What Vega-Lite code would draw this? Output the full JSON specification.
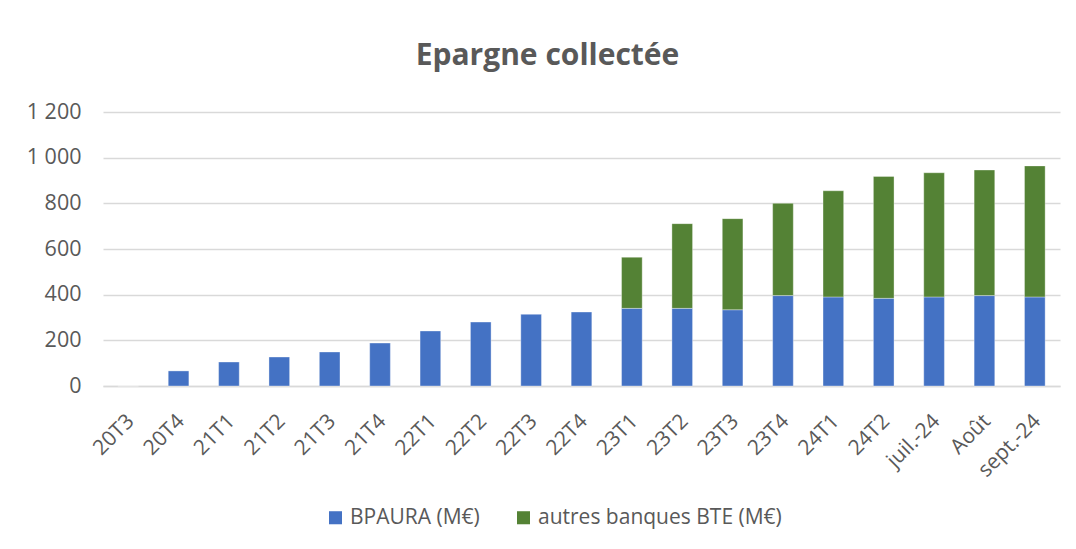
{
  "$schema": "https://vega.github.io/schema/vega-lite/v6.json",
  "width": 957,
  "height": 274,
  "autosize": {"type": "none"},
  "padding": {"left": 103, "top": 112, "right": 16, "bottom": 163},
  "background": "#ffffff",
  "title": {
    "text": "Epargne collectée",
    "font": "Open Sans",
    "fontSize": 30,
    "fontWeight": "bold",
    "color": "#595959",
    "anchor": "middle",
    "frame": "group",
    "baseline": "alphabetic",
    "dx": -34,
    "offset": 6
  },
  "data": {
    "values": [
      {"periode": "20T3", "serie": "BPAURA (M€)", "montant": 0},
      {"periode": "20T4", "serie": "BPAURA (M€)", "montant": 66},
      {"periode": "21T1", "serie": "BPAURA (M€)", "montant": 105},
      {"periode": "21T2", "serie": "BPAURA (M€)", "montant": 127},
      {"periode": "21T3", "serie": "BPAURA (M€)", "montant": 149},
      {"periode": "21T4", "serie": "BPAURA (M€)", "montant": 188},
      {"periode": "22T1", "serie": "BPAURA (M€)", "montant": 241},
      {"periode": "22T2", "serie": "BPAURA (M€)", "montant": 280},
      {"periode": "22T3", "serie": "BPAURA (M€)", "montant": 314},
      {"periode": "22T4", "serie": "BPAURA (M€)", "montant": 324},
      {"periode": "23T1", "serie": "BPAURA (M€)", "montant": 340},
      {"periode": "23T2", "serie": "BPAURA (M€)", "montant": 340},
      {"periode": "23T3", "serie": "BPAURA (M€)", "montant": 334},
      {"periode": "23T4", "serie": "BPAURA (M€)", "montant": 396},
      {"periode": "24T1", "serie": "BPAURA (M€)", "montant": 390},
      {"periode": "24T2", "serie": "BPAURA (M€)", "montant": 384},
      {"periode": "juil.-24", "serie": "BPAURA (M€)", "montant": 390},
      {"periode": "Août", "serie": "BPAURA (M€)", "montant": 396},
      {"periode": "sept.-24", "serie": "BPAURA (M€)", "montant": 390},
      {"periode": "23T1", "serie": "autres banques BTE (M€)", "montant": 224},
      {"periode": "23T2", "serie": "autres banques BTE (M€)", "montant": 371},
      {"periode": "23T3", "serie": "autres banques BTE (M€)", "montant": 399},
      {"periode": "23T4", "serie": "autres banques BTE (M€)", "montant": 404},
      {"periode": "24T1", "serie": "autres banques BTE (M€)", "montant": 465},
      {"periode": "24T2", "serie": "autres banques BTE (M€)", "montant": 534},
      {"periode": "juil.-24", "serie": "autres banques BTE (M€)", "montant": 544},
      {"periode": "Août", "serie": "autres banques BTE (M€)", "montant": 550},
      {"periode": "sept.-24", "serie": "autres banques BTE (M€)", "montant": 574}
    ]
  },
  "mark": {"type": "bar", "stroke": "#ffffff", "strokeOpacity": 0.35, "strokeWidth": 1},
  "encoding": {
    "x": {
      "field": "periode",
      "type": "nominal",
      "sort": null,
      "scale": {"paddingInner": 0.59, "paddingOuter": 0.295},
      "axis": {
        "title": null,
        "labelAngle": -45,
        "labelFont": "Open Sans",
        "labelFontSize": 21,
        "labelColor": "#595959",
        "ticks": false,
        "labelPadding": 24,
        "labelOffset": -5,
        "domainColor": "#d9d9d9",
        "domainWidth": 1.5
      }
    },
    "y": {
      "field": "montant",
      "type": "quantitative",
      "aggregate": "sum",
      "stack": "zero",
      "scale": {"domain": [0, 1200], "nice": false},
      "axis": {
        "title": null,
        "values": [0, 200, 400, 600, 800, 1000, 1200],
        "labelExpr": "replace(format(datum.value, ','), ',', ' ')",
        "labelFont": "Open Sans",
        "labelFontSize": 21.5,
        "labelColor": "#595959",
        "ticks": false,
        "domain": false,
        "labelPadding": 22,
        "gridColor": "#d9d9d9",
        "gridWidth": 1.5
      }
    },
    "color": {
      "field": "serie",
      "type": "nominal",
      "scale": {
        "domain": ["BPAURA (M€)", "autres banques BTE (M€)"],
        "range": ["#4472c4", "#548235"]
      },
      "legend": {
        "title": null,
        "orient": "none",
        "legendX": 222,
        "legendY": 395,
        "direction": "horizontal",
        "symbolType": "square",
        "symbolSize": 170,
        "symbolStrokeWidth": 0,
        "labelFont": "Open Sans",
        "labelFontSize": 21,
        "labelColor": "#595959",
        "labelOffset": 4,
        "labelLimit": 0,
        "columnPadding": 33
      }
    },
    "order": {"field": "serie", "sort": "ascending"}
  },
  "config": {
    "view": {"stroke": null}
  }
}
